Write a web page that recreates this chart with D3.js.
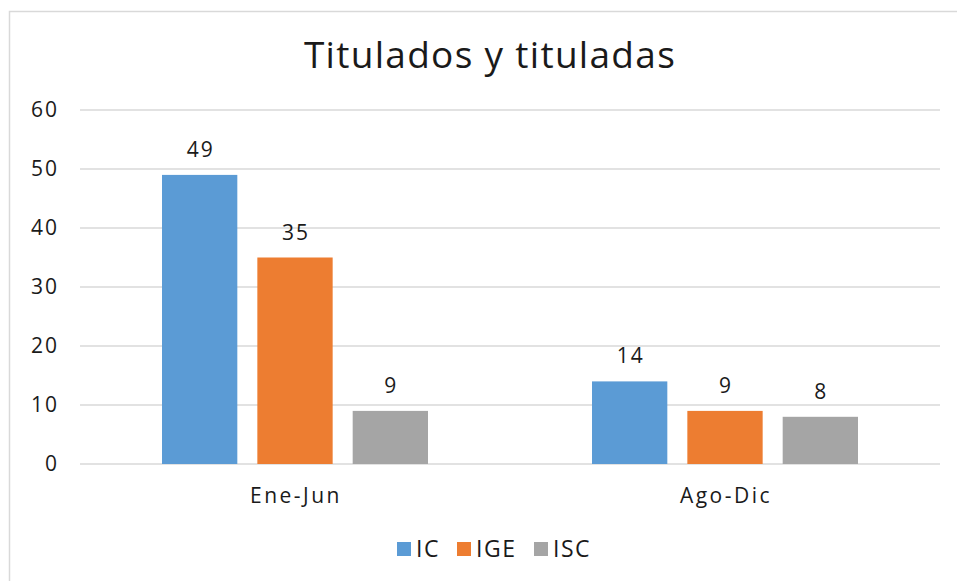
<!DOCTYPE html>
<html lang="es">
<head>
    <meta charset="UTF-8">
    <title>Titulados y tituladas</title>
    <style>
        body { margin: 0; background: #fff; }
        svg text { font-family: "Open Sans", "DejaVu Sans", sans-serif; fill: #1a1a1a; }
        .grid line { stroke: #d9d9d9; stroke-width: 1.5px; }
    </style>
</head>
<body>
    <svg id="chart" width="957" height="581"></svg>
    <script src="https://d3js.org/d3.v7.min.js"></script>
    <script>
        // data
        const periods = ["Ene-Jun", "Ago-Dic"];
        const series = ["IC", "IGE", "ISC"];
        const colors = ["#5b9bd5", "#ed7d31", "#a5a5a5"];
        const icValues = [49, 14];
        const igeValues = [35, 9];
        const iscValues = [9, 8];
        const yTicks = [0, 10, 20, 30, 40, 50, 60];

        const values = [icValues, igeValues, iscValues];

        const svg = d3.select("#chart");
        const plotLeft = 80, plotRight = 940, plotTop = 110, plotBottom = 464;

        // chart frame
        svg.append("rect")
            .attr("x", 9.5).attr("y", 11.5)
            .attr("width", 970).attr("height", 600)
            .attr("fill", "none")
            .attr("stroke", "#d9d9d9")
            .attr("stroke-width", 1.5);

        svg.append("text")
            .attr("x", 490).attr("y", 68)
            .attr("text-anchor", "middle")
            .style("font-size", "37px")
            .style("letter-spacing", "1.3px")
            .text("Titulados y tituladas");

        const y = d3.scaleLinear().domain([0, 60]).range([plotBottom, plotTop]);
        const x0 = d3.scaleBand().domain(periods).range([plotLeft, plotRight]).paddingInner(0).paddingOuter(0);
        const x1 = d3.scaleBand().domain(series).range([82, 348]).paddingInner(0.21).paddingOuter(0);

        // gridlines
        svg.append("g").attr("class", "grid")
            .selectAll("line").data(yTicks).enter().append("line")
            .attr("x1", plotLeft).attr("x2", plotRight)
            .attr("y1", d => y(d)).attr("y2", d => y(d));

        // y axis labels
        svg.append("g").selectAll("text").data(yTicks).enter().append("text")
            .attr("x", 59).attr("y", d => y(d))
            .attr("dy", "0.35em")
            .attr("text-anchor", "end")
            .style("font-size", "21px")
            .style("letter-spacing", "2px")
            .text(d => d);

        // bars
        const groups = svg.append("g").selectAll("g").data(periods).enter().append("g")
            .attr("transform", d => `translate(${x0(d)},0)`);

        groups.each(function(p, pi) {
            const g = d3.select(this);
            series.forEach((s, si) => {
                const v = values[si][pi];
                g.append("rect")
                    .attr("x", x1(s))
                    .attr("y", y(v))
                    .attr("width", x1.bandwidth())
                    .attr("height", y(0) - y(v))
                    .attr("fill", colors[si]);
                g.append("text")
                    .attr("x", x1(s) + x1.bandwidth() / 2 + 1)
                    .attr("y", y(v) - 18)
                    .attr("text-anchor", "middle")
                    .style("font-size", "21px")
                    .style("letter-spacing", "2px")
                    .text(v);
            });
        });

        // category labels
        svg.append("g").selectAll("text").data(periods).enter().append("text")
            .attr("x", d => x0(d) + x0.bandwidth() / 2 + 1)
            .attr("y", 503)
            .attr("text-anchor", "middle")
            .style("font-size", "21px")
            .style("letter-spacing", "2.5px")
            .text(d => d);

        // legend
        const legendX = [397, 457, 534];
        const legend = svg.append("g").selectAll("g").data(series).enter().append("g")
            .attr("transform", (d, i) => `translate(${legendX[i]},542)`);
        legend.append("rect")
            .attr("width", 14).attr("height", 14)
            .attr("fill", (d, i) => colors[i]);
        legend.append("text")
            .attr("x", 19).attr("y", 7)
            .attr("dy", "0.36em")
            .style("font-size", "23px")
            .style("letter-spacing", "1.5px")
            .text(d => d);
    </script>
</body>
</html>
